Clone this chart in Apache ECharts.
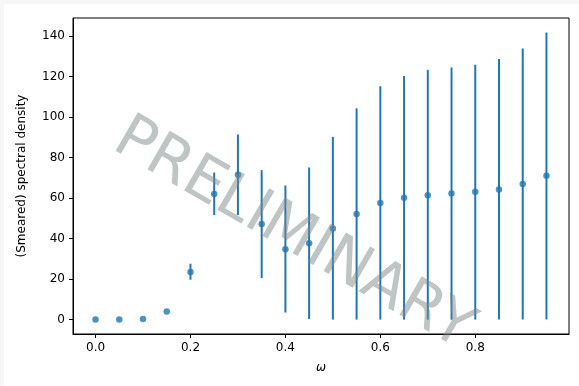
<!DOCTYPE html>
<html>
<head>
<meta charset="utf-8">
<script src="https://cdn.jsdelivr.net/npm/echarts@6/dist/echarts.min.js"></script>
<style>
  html, body { margin: 0; padding: 0; background: #f7f7f7; }
  #main { position: absolute; left: 4px; top: 4px; width: 575px; height: 382px; background: #fff; }
</style>
</head>
<body>
<div id="main"></div>
<script>
// data
var omega = [0, 0.05, 0.1, 0.15, 0.2, 0.25, 0.3, 0.35, 0.4, 0.45, 0.5, 0.55, 0.6, 0.65, 0.7, 0.75, 0.8, 0.85, 0.9, 0.95];
var density = [0, 0, 0.3, 4.0, 23.5, 62, 71.5, 47.2, 34.8, 37.7, 45.0, 52.1, 57.6, 60.2, 61.4, 62.2, 63.1, 64.2, 67.0, 71.0];
var errLow = [0, 0, 0.3, 4.0, 19.7, 51.6, 51.6, 20.5, 3.5, 0.3, 0, 0, 0, 0, 0, 0, 0, 0, 0, 0];
var errHigh = [0, 0, 0.3, 4.0, 27.6, 72.6, 91.4, 73.8, 66.2, 75.1, 90.2, 104.3, 115.2, 120.3, 123.3, 124.5, 125.8, 128.6, 133.9, 141.8];
var xTicks = [0, 0.2, 0.4, 0.6, 0.8];
var yTicks = [0, 20, 40, 60, 80, 100, 120, 140];

var blue = '#1f77b4';
var font = 'DejaVu Sans';

var points = [];
var bars = [];
for (var i = 0; i < omega.length; i++) {
    points.push([omega[i], density[i]]);
    bars.push([omega[i], errLow[i], errHigh[i]]);
}

var myChart = echarts.init(document.getElementById('main'));
var option = {
    animation: false,
    grid: {
        left: 69, top: 14, right: 10, bottom: 52,
        show: true, borderColor: '#000', borderWidth: 1, backgroundColor: 'transparent'
    },
    xAxis: {
        type: 'value',
        min: -0.0475, max: 0.9975,
        splitLine: { show: false },
        axisLine: { show: true, onZero: false, lineStyle: { color: '#000', width: 1 } },
        axisTick: { show: true, length: 4, customValues: xTicks, lineStyle: { color: '#000' } },
        axisLabel: {
            customValues: xTicks, color: '#000', fontFamily: font, fontSize: 12, margin: 8,
            formatter: function (v) { return v.toFixed(1); }
        },
        name: 'ω', nameLocation: 'middle', nameGap: 28,
        nameTextStyle: { color: '#000', fontFamily: font, fontSize: 12, fontStyle: 'italic' }
    },
    yAxis: {
        type: 'value',
        min: -7.1, max: 148.9,
        splitLine: { show: false },
        axisLine: { show: true, onZero: false, lineStyle: { color: '#000', width: 1 } },
        axisTick: { show: true, length: 4, customValues: yTicks, lineStyle: { color: '#000' } },
        axisLabel: {
            customValues: yTicks, color: '#000', fontFamily: font, fontSize: 12, margin: 8
        },
        name: '(Smeared) spectral density', nameLocation: 'middle', nameGap: 45,
        nameTextStyle: { color: '#000', fontFamily: font, fontSize: 12 }
    },
    series: [
        {
            type: 'custom',
            data: bars,
            renderItem: function (params, api) {
                var top = api.coord([api.value(0), api.value(2)]);
                var bot = api.coord([api.value(0), api.value(1)]);
                return {
                    type: 'line',
                    shape: { x1: top[0], y1: top[1], x2: bot[0], y2: bot[1] },
                    style: { stroke: blue, lineWidth: 2 }
                };
            },
            z: 2
        },
        {
            type: 'scatter',
            data: points,
            symbol: 'circle',
            symbolSize: 6.5,
            itemStyle: { color: blue },
            z: 3
        }
    ],
    graphic: [
        {
            type: 'text',
            x: 289, y: 231,
            rotation: -Math.PI / 6,
            z: 100,
            style: {
                text: 'PRELIMINARY',
                fontFamily: font,
                fontSize: 61,
                fill: 'rgba(128,138,138,0.5)',
                textAlign: 'center',
                textVerticalAlign: 'middle'
            }
        }
    ]
};
myChart.setOption(option);
</script>
</body>
</html>
